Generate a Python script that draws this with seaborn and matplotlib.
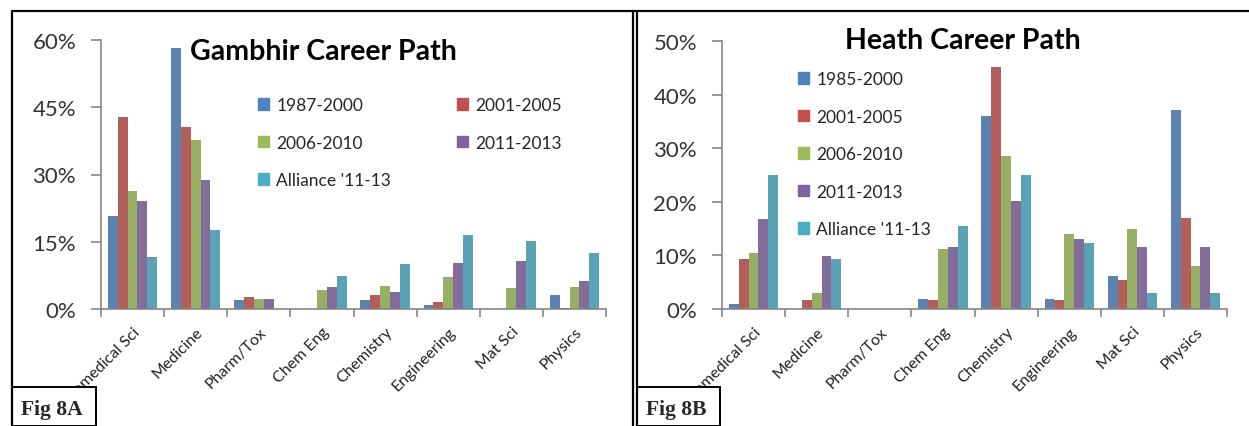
import numpy as np
import pandas as pd
import matplotlib
matplotlib.use('Agg')
import matplotlib.pyplot as plt
import seaborn as sns
from matplotlib.ticker import PercentFormatter, FixedLocator
from matplotlib.transforms import Bbox, TransformedBbox
from matplotlib.lines import Line2D
from matplotlib.patches import Rectangle

# Fields on the x axis
fields = ['Biomedical Sci', 'Medicine', 'Pharm/Tox', 'Chem Eng', 'Chemistry',
          'Engineering', 'Mat Sci', 'Physics']

# Fig 8A - Gambhir career path (% of group)
gambhir_periods = ['1987-2000', '2001-2005', '2006-2010', '2011-2013', "Alliance '11-13"]
gambhir_1987_2000 = [20.8, 58.2, 2.0, 0.0, 2.0, 0.9, 0.0, 3.2]
gambhir_2001_2005 = [42.8, 40.5, 2.6, 0.0, 3.2, 1.5, 0.0, 0.3]
gambhir_2006_2010 = [26.3, 37.6, 2.3, 4.3, 5.2, 7.1, 4.6, 4.9]
gambhir_2011_2013 = [24.0, 28.8, 2.3, 4.9, 3.7, 10.3, 10.6, 6.3]
gambhir_alliance = [11.5, 17.7, 0.0, 7.4, 10.0, 16.5, 15.1, 12.6]

# Fig 8B - Heath career path (% of group)
heath_periods = ['1985-2000', '2001-2005', '2006-2010', '2011-2013', "Alliance '11-13"]
heath_1985_2000 = [1.0, 0.0, 0.0, 1.9, 36.1, 1.9, 6.2, 37.1]
heath_2001_2005 = [9.3, 1.7, 0.0, 1.7, 45.2, 1.7, 5.5, 16.9]
heath_2006_2010 = [10.4, 2.9, 0.0, 11.2, 28.6, 14.0, 15.0, 8.1]
heath_2011_2013 = [16.7, 9.8, 0.0, 11.5, 20.1, 13.1, 11.5, 11.5]
heath_alliance = [25.0, 9.3, 0.0, 15.5, 25.0, 12.4, 2.9, 2.9]

colors = ['#4F81BD', '#C0504D', '#9BBB59', '#8064A2', '#4BACC6']


def long_table(periods, series):
    rows = []
    for p, vals in zip(periods, series):
        for f, v in zip(fields, vals):
            rows.append({'field': f, 'period': p, 'pct': v})
    return pd.DataFrame(rows)


df_a = long_table(gambhir_periods, [gambhir_1987_2000, gambhir_2001_2005, gambhir_2006_2010,
                                    gambhir_2011_2013, gambhir_alliance])
df_b = long_table(heath_periods, [heath_1985_2000, heath_2001_2005, heath_2006_2010,
                                  heath_2011_2013, heath_alliance])

sns.set_style('white')
plt.rcParams['font.family'] = ['Lato', 'DejaVu Sans']

W, H = 1249, 427
fig = plt.figure(figsize=(W / 100, H / 100), dpi=100)


def fx(x):
    return x / W


def fy(y):
    return 1 - y / H


ax_a = fig.add_axes([fx(101), fy(310), fx(606) - fx(101), fy(41) - fy(310)])
ax_b = fig.add_axes([fx(722), fy(310), fx(1227) - fx(722), fy(42) - fy(310)])

axis_grey = '#868686'


def draw_panel(ax, df, periods, ymax, step, clip_left):
    sns.barplot(data=df, x='field', y='pct', hue='period', hue_order=periods,
                order=fields, palette=colors, width=0.78, gap=0,
                edgecolor='none', ax=ax, legend=False)
    ax.set_ylim(0, ymax)
    ax.set_xlim(-0.5, len(fields) - 0.5)
    ax.set_yticks(np.arange(0, ymax + 0.1, step))
    ax.yaxis.set_major_formatter(PercentFormatter(decimals=0))
    ax.set_xlabel('')
    ax.set_ylabel('')
    for s in ['top', 'right']:
        ax.spines[s].set_visible(False)
    for s in ['left', 'bottom']:
        ax.spines[s].set_color(axis_grey)
        ax.spines[s].set_linewidth(1.2)
    ax.tick_params(axis='y', which='major', direction='out', length=7, width=1.2,
                   color=axis_grey, labelsize=16, labelcolor='#333333', pad=11, left=True)
    ax.xaxis.set_minor_locator(FixedLocator(np.arange(-0.5, len(fields), 1.0)))
    ax.tick_params(axis='x', which='minor', direction='out', length=6, width=1.2,
                   color=axis_grey, bottom=True)
    ax.tick_params(axis='x', which='major', length=0, pad=11)
    ax.set_xticks(range(len(fields)))
    ax.set_xticklabels(fields, rotation=45, ha='right', rotation_mode='anchor',
                       fontsize=11.5, color='#222222')
    first = ax.get_xticklabels()[0]
    first.set_clip_box(TransformedBbox(Bbox([[fx(clip_left), 0], [1, 1]]), fig.transFigure))
    first.set_clip_on(True)


draw_panel(ax_a, df_a, gambhir_periods, 60, 15, 70)
draw_panel(ax_b, df_b, heath_periods, 50, 10, 694)

# Titles
fig.text(fx(323), fy(52), 'Gambhir Career Path', ha='center', va='center',
         fontsize=20.5, fontweight='bold', color='black')
fig.text(fx(963), fy(41), 'Heath Career Path', ha='center', va='center',
         fontsize=20.5, fontweight='bold', color='black')

# Legends
handles_a = [Rectangle((0, 0), 1, 1, color=c) for c in colors]
order = [0, 2, 4, 1, 3]
fig.legend([handles_a[i] for i in order], [gambhir_periods[i] for i in order],
           ncol=2, loc='upper left', bbox_to_anchor=(fx(258), fy(98)),
           frameon=False, fontsize=12.5, handlelength=0.65, handleheight=0.65,
           handletextpad=0.4, labelspacing=1.24, columnspacing=3.8, borderpad=0,
           borderaxespad=0)
handles_b = [Rectangle((0, 0), 1, 1, color=c) for c in colors]
fig.legend(handles_b, heath_periods, ncol=1, loc='upper left',
           bbox_to_anchor=(fx(798), fy(72)), frameon=False, fontsize=12.5,
           handlelength=0.65, handleheight=0.65, handletextpad=0.4,
           labelspacing=1.24, borderpad=0, borderaxespad=0)

# Panel frames
frame_kw = dict(color='black', linewidth=1.6, transform=fig.transFigure)
fig.add_artist(Line2D([fx(12), fx(1249)], [fy(12), fy(12)], **frame_kw))
fig.add_artist(Line2D([fx(12), fx(12)], [fy(12), fy(427)], **frame_kw))
fig.add_artist(Line2D([fx(633), fx(633)], [fy(12), fy(427)], **frame_kw))
fig.add_artist(Line2D([fx(636.5), fx(636.5)], [fy(12), fy(427)], **frame_kw))

# Figure tags
for x0, x1, tag in [(12, 96, 'Fig 8A'), (637, 720, 'Fig 8B')]:
    fig.add_artist(Rectangle((fx(x0), 0), fx(x1) - fx(x0), fy(388), transform=fig.transFigure,
                             facecolor='white', edgecolor='black', linewidth=1.4))
    fig.text(fx(x0 + 9), fy(410), tag, ha='left', va='center', fontsize=15.5,
             fontweight='bold', family='Liberation Serif')

fig.savefig('out.png', dpi=100)
